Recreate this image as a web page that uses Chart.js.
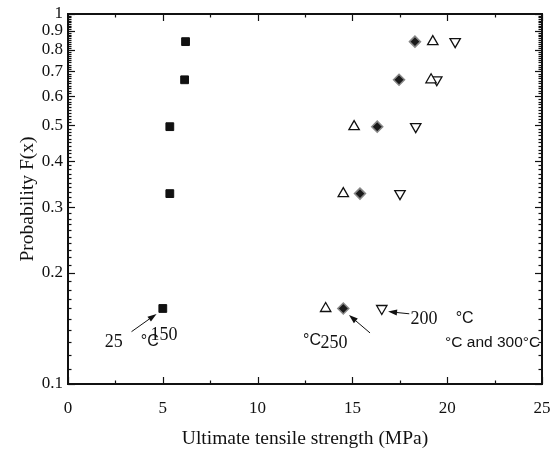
<!DOCTYPE html>
<html>
<head>
<meta charset="utf-8">
<script src="https://cdn.jsdelivr.net/npm/chart.js@4.4.0/dist/chart.umd.min.js"></script>
<style>
  html, body { margin: 0; padding: 0; background: #fff; }
  canvas { display: block; }
</style>
</head>
<body>
<canvas id="c" width="554" height="452"></canvas>
<script>
// Cumulative failure probability shared by every temperature set
const probability = [0.160, 0.327, 0.496, 0.664, 0.842];

// Ultimate tensile strength (MPa) for each test temperature
const strength25  = [5.00, 5.37, 5.37, 6.15, 6.20];
const strength150 = [13.59, 14.52, 15.09, 19.15, 19.24];
const strength200 = [16.55, 17.51, 18.34, 19.45, 20.42];
const strength250 = [14.52, 15.40, 16.31, 17.46, 18.30];

// Axis ticks
const xTickValues = [0, 5, 10, 15, 20, 25];
const yTickValues = [0.1, 0.2, 0.3, 0.4, 0.5, 0.6, 0.7, 0.8, 0.9, 1];
const yTickLabels = ['0.1', '0.2', '0.3', '0.4', '0.5', '0.6', '0.7', '0.8', '0.9', '1'];

const SERIF = '"Liberation Serif", "Times New Roman", serif';
const SANS = '"Liberation Sans", Arial, sans-serif';

// Temperature notes, positioned in data units (strength, probability)
const notes = [
  { text: '25',            x: 2.41,  y: 0.130, family: SERIF, size: 18, align: 'center' },
  { text: '°C',            x: 4.31,  y: 0.130, family: SANS,  size: 16, align: 'center' },
  { text: '150',           x: 5.06,  y: 0.1356, family: SERIF, size: 18, align: 'center' },
  { text: '°C',            x: 12.87, y: 0.1307, family: SANS,  size: 16, align: 'center' },
  { text: '250',           x: 14.03, y: 0.129, family: SERIF, size: 18, align: 'center' },
  { text: '200',           x: 18.78, y: 0.150, family: SERIF, size: 18, align: 'center' },
  { text: '°C',            x: 20.92, y: 0.150, family: SANS,  size: 16, align: 'center' },
  { text: '°C and 300°C',  x: 19.89, y: 0.129, family: SANS,  size: 15.5, align: 'left' }
];

// Leader arrows: tail -> head, in data units
const arrows = [
  { from: [3.35, 0.1385],  to: [4.67, 0.1547] },
  { from: [15.93, 0.1374], to: [14.82, 0.1536] },
  { from: [18.00, 0.1548], to: [16.88, 0.1569] }
];

const toPoints = (xs) => xs.map((v, i) => ({ x: v, y: probability[i] }));

const frameAndTicks = {
  id: 'frameAndTicks',
  afterDraw(chart) {
    const { ctx, chartArea: a, scales: { x, y } } = chart;
    ctx.save();
    ctx.strokeStyle = '#111';
    ctx.lineWidth = 1.2;
    const seg = (x1, y1, x2, y2) => { ctx.beginPath(); ctx.moveTo(x1, y1); ctx.lineTo(x2, y2); ctx.stroke(); };
    // inward ticks on bottom and top
    for (let k = 0; k <= 10; k++) {
      const v = k * 2.5;
      const px = Math.round(x.getPixelForValue(v)) + 0.5;
      const len = k % 2 === 0 ? 7 : 3.5;
      seg(px, a.bottom, px, a.bottom - len);
      seg(px, a.top, px, a.top + len);
    }
    // inward ticks on left and right, minor every 0.01
    for (let i = 10; i <= 100; i++) {
      const py = Math.round(y.getPixelForValue(i / 100)) + 0.5;
      const len = i % 10 === 0 ? 7 : 3.5;
      seg(a.left, py, a.left + len, py);
      seg(a.right, py, a.right - len, py);
    }
    ctx.lineWidth = 2;
    ctx.strokeRect(a.left, a.top, a.right - a.left, a.bottom - a.top);
    ctx.restore();
  }
};

const annotations = {
  id: 'annotations',
  afterDatasetsDraw(chart) {
    const { ctx, scales: { x, y } } = chart;
    ctx.save();
    ctx.fillStyle = '#111';
    ctx.textBaseline = 'middle';
    notes.forEach(n => {
      ctx.font = n.size + 'px ' + n.family;
      ctx.textAlign = n.align;
      ctx.fillText(n.text, x.getPixelForValue(n.x), y.getPixelForValue(n.y));
    });
    ctx.strokeStyle = '#111';
    ctx.lineWidth = 1;
    arrows.forEach(ar => {
      const x1 = x.getPixelForValue(ar.from[0]), y1 = y.getPixelForValue(ar.from[1]);
      const x2 = x.getPixelForValue(ar.to[0]), y2 = y.getPixelForValue(ar.to[1]);
      const ang = Math.atan2(y2 - y1, x2 - x1);
      const hl = 9, hw = 3;
      const bx = x2 - Math.cos(ang) * hl, by = y2 - Math.sin(ang) * hl;
      ctx.beginPath(); ctx.moveTo(x1, y1); ctx.lineTo(bx, by); ctx.stroke();
      ctx.beginPath();
      ctx.moveTo(x2, y2);
      ctx.lineTo(bx + Math.sin(ang) * hw, by - Math.cos(ang) * hw);
      ctx.lineTo(bx - Math.sin(ang) * hw, by + Math.cos(ang) * hw);
      ctx.closePath();
      ctx.fill();
    });
    ctx.restore();
  }
};

new Chart(document.getElementById('c'), {
  type: 'scatter',
  data: {
    datasets: [
      { label: '25 °C', data: toPoints(strength25), pointStyle: 'rect', pointRadius: 5.5,
        backgroundColor: '#111', borderColor: '#111', borderWidth: 1 },
      { label: '150 °C', data: toPoints(strength150), pointStyle: 'triangle', pointRadius: 6,
        backgroundColor: '#fff', borderColor: '#111', borderWidth: 1.3 },
      { label: '200 °C', data: toPoints(strength200), pointStyle: 'triangle', pointRotation: 180, pointRadius: 6,
        backgroundColor: '#fff', borderColor: '#111', borderWidth: 1.3 },
      { label: '250 °C and 300 °C', data: toPoints(strength250), pointStyle: 'rectRot', pointRadius: 5.5,
        backgroundColor: '#1a1a1a', borderColor: '#888', borderWidth: 1.5 }
    ]
  },
  options: {
    responsive: false,
    animation: false,
    devicePixelRatio: 1,
    layout: { padding: { left: 0, right: 12, top: 14, bottom: 0 } },
    plugins: { legend: { display: false }, tooltip: { enabled: false } },
    scales: {
      x: {
        type: 'linear', min: 0, max: 25,
        afterFit: (s) => { s.height = 68; s.paddingLeft = 0; s.paddingRight = 0; },
        afterBuildTicks: (s) => { s.ticks = xTickValues.map(v => ({ value: v })); },
        grid: { display: false, drawTicks: false },
        border: { display: false },
        ticks: { color: '#111', padding: 14, autoSkip: false, maxRotation: 0,
                 font: { family: SERIF, size: 17 } },
        title: { display: true, text: 'Ultimate tensile strength (MPa)', color: '#111',
                 font: { family: SERIF, size: 19.5 }, padding: { top: 0, bottom: 1 } }
      },
      y: {
        type: 'logarithmic', min: 0.1, max: 1,
        afterFit: (s) => { s.width = 68; s.paddingTop = 0; s.paddingBottom = 0; },
        afterBuildTicks: (s) => { s.ticks = yTickValues.map(v => ({ value: v })); },
        grid: { display: false, drawTicks: false },
        border: { display: false },
        ticks: { color: '#111', padding: 5, autoSkip: false,
                 font: { family: SERIF, size: 17 },
                 callback: (v, i) => yTickLabels[i] },
        title: { display: true, text: 'Probability F(x)', color: '#111',
                 font: { family: SERIF, size: 19.5 }, padding: { top: 16, bottom: 0 } }
      }
    }
  },
  plugins: [annotations, frameAndTicks]
});
</script>
</body>
</html>
